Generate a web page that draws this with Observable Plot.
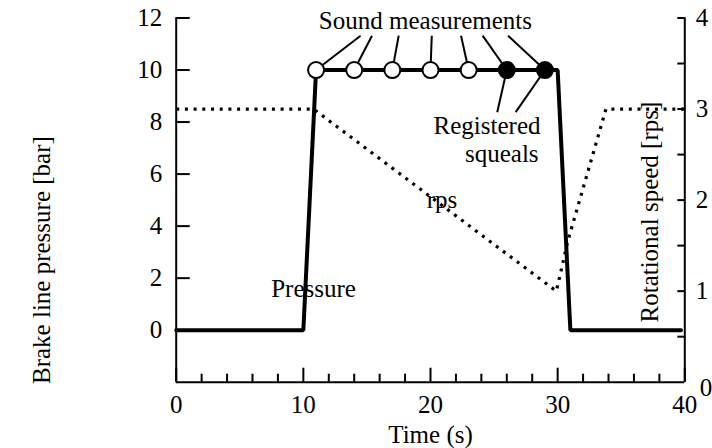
<!DOCTYPE html>
<html><head><meta charset="utf-8">
<script src="https://cdn.jsdelivr.net/npm/d3@7"></script>
<script src="https://cdn.jsdelivr.net/npm/@observablehq/plot@0.6"></script>
<style>
body{margin:0;background:#fff;}
svg, svg text {font-family:"Liberation Serif","Times New Roman","DejaVu Serif",serif !important;}
</style>
</head><body><div id="chart"></div>
<script>
// Pressure trace (bar)
const pressureTime = [0, 10, 11, 30, 31, 39.7];
const pressureBar = [0, 0, 10, 10, 0, 0];
// Rotational speed trace (rps, right axis)
const rpsTime = [0, 10.8, 29.9, 30.8, 33.8, 40];
const rpsValue = [3.0, 3.0, 1.0, 1.55, 3.0, 3.0];
// Sound measurements
const measureTime = [11, 14, 17, 20, 23, 26, 29];
const measureSqueal = [false, false, false, false, false, true, true];
const measureLevel = 10;
const soundLeaderEndTime = [14.5, 15.4, 17.5, 20.1, 22.4, 24.1, 26.1];
const soundLeaderEndBar = 11.32;
const squealLeaderStartTime = [26, 29];
const squealLeaderEndTime = [25.25, 26.7];
const squealLeaderEndBar = 8.38;
// Axis ticks
const leftTicks = [0, 2, 4, 6, 8, 10, 12];
const rightTicks = [0.5, 1, 1.5, 2, 2.5, 3, 3.5, 4];
const rightLabels = [1, 2, 3, 4];
const rightZero = [0];
const xMajor = [0, 10, 20, 30, 40];
const xMinor = [2, 4, 6, 8, 12, 14, 16, 18, 22, 24, 26, 28, 32, 34, 36, 38];
// Annotations
const annotText = ["Sound measurements", "Registered", "squeals", "rps", "Pressure"];
const annotTime = [19.6, 28.65, 28.5, 20.9, 10.8];
const annotBar = [11.9, 7.86, 6.76, 5.0, 1.6];
const annotAnchor = ["middle", "end", "end", "middle", "middle"];
const titleLeft = "Brake line pressure [bar]";
const titleRight = "Rotational speed [rps]";
const titleX = "Time (s)";

// right axis (rps) -> left axis (bar) mapping
const rpsToBar = r => 3.5 * r - 2;

const pressure = pressureTime.map((t, i) => ({t, v: pressureBar[i]}));
const rps = rpsTime.map((t, i) => ({t, v: rpsToBar(rpsValue[i])}));
const measures = measureTime.map((t, i) => ({t, v: measureLevel, squeal: measureSqueal[i]}));
const soundLinks = measureTime.map((t, i) => ({x1: t, y1: measureLevel, x2: soundLeaderEndTime[i], y2: soundLeaderEndBar}));
const squealLinks = squealLeaderStartTime.map((t, i) => ({x1: t, y1: measureLevel, x2: squealLeaderEndTime[i], y2: squealLeaderEndBar}));
const annots = annotText.map((s, i) => ({s, t: annotTime[i], v: annotBar[i], a: annotAnchor[i]}));

const serif = "Liberation Serif, Times New Roman, DejaVu Serif, serif";

const chart = Plot.plot({
  width: 712,
  height: 448,
  marginLeft: 175.7,
  marginRight: 27.7,
  marginTop: 17.5,
  marginBottom: 66.3,
  style: "font-family: 'Liberation Serif', serif; font-size: 25px; color: black; background: white;",
  x: {domain: [0, 40]},
  y: {domain: [-2, 12]},
  marks: [
    // axis lines
    Plot.ruleX([0, 40], {strokeWidth: 2}),
    Plot.ruleY([-2], {strokeWidth: 2}),
    // left axis
    Plot.axisY({ticks: leftTicks, tickSize: -14, tickFormat: () => "", strokeWidth: 2, label: null}),
    Plot.axisY({ticks: leftTicks, tickSize: 0, tickPadding: 14, tickFormat: d => String(d), label: null, fontFamily: serif}),
    // right axis
    Plot.axisY({anchor: "right", ticks: rightTicks.map(rpsToBar), tickSize: -8, tickFormat: () => "", strokeWidth: 2, label: null}),
    Plot.axisY({anchor: "right", ticks: rightLabels.map(rpsToBar), tickSize: 0, tickPadding: 11, tickFormat: d => String(Math.round((d + 2) / 3.5)), label: null, fontFamily: serif}),
    Plot.axisY({anchor: "right", ticks: rightZero.map(rpsToBar), tickSize: 0, tickPadding: 15, dy: 6, tickFormat: d => String(Math.round((d + 2) / 3.5)), label: null, fontFamily: serif}),
    // x axis
    Plot.axisX({ticks: xMajor, tickSize: -14, tickFormat: () => "", strokeWidth: 2, label: null}),
    Plot.axisX({ticks: xMinor, tickSize: -8, tickFormat: () => "", strokeWidth: 2, label: null}),
    Plot.axisX({ticks: xMajor, tickSize: 0, tickPadding: 13, tickFormat: d => String(d), label: null, fontFamily: serif}),
    // titles
    Plot.text([titleX], {frameAnchor: "bottom", lineAnchor: "middle", textAnchor: "middle", dy: 53, text: d => d, fontFamily: serif}),
    Plot.text([titleLeft], {frameAnchor: "left", lineAnchor: "middle", textAnchor: "middle", rotate: -90, dx: -134, dy: 60, text: d => d, fontFamily: serif}),
    Plot.text([titleRight], {frameAnchor: "right", lineAnchor: "middle", textAnchor: "middle", rotate: -90, dx: -35, dy: 12, text: d => d, fontFamily: serif}),
    // data
    Plot.line(rps, {x: "t", y: "v", strokeWidth: 3.2, strokeDasharray: "3,5.7", strokeLinecap: "butt"}),
    Plot.line(pressure, {x: "t", y: "v", strokeWidth: 4, strokeLinejoin: "miter"}),
    Plot.link(soundLinks, {x1: "x1", y1: "y1", x2: "x2", y2: "y2", strokeWidth: 2}),
    Plot.link(squealLinks, {x1: "x1", y1: "y1", x2: "x2", y2: "y2", strokeWidth: 2}),
    Plot.dot(measures, {x: "t", y: "v", r: 8, stroke: "black", strokeWidth: 2, fill: d => d.squeal ? "black" : "white"}),
    Plot.text(annots, {x: "t", y: "v", text: "s", textAnchor: "end", filter: d => d.a === "end", fontFamily: serif}),
    Plot.text(annots, {x: "t", y: "v", text: "s", filter: d => d.a === "middle", fontFamily: serif})
  ]
});
document.getElementById("chart").appendChild(chart);
</script>
</body></html>
